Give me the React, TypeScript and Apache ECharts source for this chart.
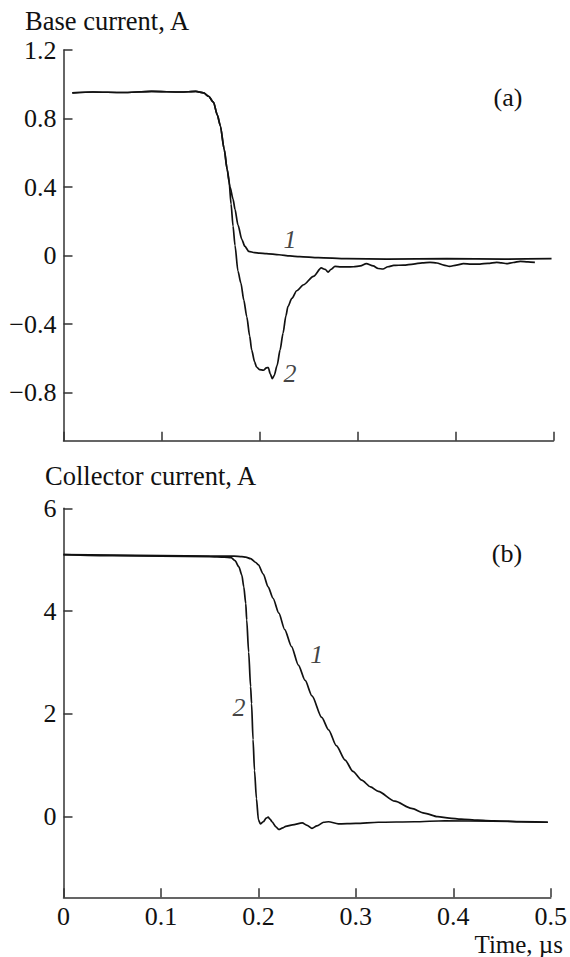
import React, { useEffect, useRef } from "react";
import * as echarts from "echarts";

// Time axis (µs)
const timeTicks = [0, 0.1, 0.2, 0.3, 0.4, 0.5];

// (a) Base current, A
const baseTicks = [-0.8, -0.4, 0, 0.4, 0.8, 1.2];
const baseCurve1: [number, number][] = [
  [0.009, 0.95], [0.03, 0.955], [0.06, 0.952], [0.09, 0.958], [0.12, 0.955], [0.135, 0.958],
  [0.143, 0.95], [0.148, 0.93], [0.153, 0.896], [0.157, 0.82], [0.16, 0.758], [0.164, 0.62],
  [0.167, 0.504], [0.17, 0.4], [0.173, 0.33], [0.175, 0.27], [0.178, 0.18], [0.182, 0.094],
  [0.185, 0.055], [0.189, 0.025], [0.195, 0.018], [0.2, 0.015], [0.207, 0.012], [0.22, 0.005],
  [0.231, -0.002], [0.241, -0.006], [0.26, -0.012], [0.289, -0.018], [0.33, -0.02],
  [0.391, -0.018], [0.45, -0.02], [0.498, -0.018],
];
const baseCurve2: [number, number][] = [
  [0.009, 0.95], [0.03, 0.955], [0.06, 0.952], [0.09, 0.958], [0.12, 0.955], [0.135, 0.958],
  [0.143, 0.95], [0.148, 0.93], [0.153, 0.896], [0.157, 0.82], [0.16, 0.758], [0.164, 0.62],
  [0.167, 0.504], [0.169, 0.43], [0.171, 0.3], [0.173, 0.172], [0.175, 0.06], [0.178, -0.09],
  [0.181, -0.16], [0.184, -0.26], [0.187, -0.356], [0.19, -0.47], [0.192, -0.55], [0.195, -0.62],
  [0.197, -0.65], [0.2, -0.665], [0.204, -0.669], [0.207, -0.655], [0.209, -0.653], [0.211, -0.69],
  [0.213, -0.718], [0.215, -0.7], [0.218, -0.64], [0.221, -0.55], [0.224, -0.453], [0.227, -0.35],
  [0.229, -0.297], [0.233, -0.25], [0.238, -0.205], [0.245, -0.17], [0.255, -0.121], [0.263, -0.072],
  [0.267, -0.08], [0.27, -0.096], [0.273, -0.08], [0.277, -0.063], [0.283, -0.066], [0.289, -0.066],
  [0.296, -0.065], [0.303, -0.06], [0.309, -0.047], [0.316, -0.06], [0.321, -0.075], [0.326, -0.078],
  [0.331, -0.065], [0.337, -0.057], [0.347, -0.055], [0.357, -0.049], [0.366, -0.042], [0.374, -0.039],
  [0.381, -0.043], [0.388, -0.055], [0.394, -0.063], [0.401, -0.055], [0.408, -0.047], [0.416, -0.05],
  [0.425, -0.049], [0.433, -0.045], [0.442, -0.039], [0.447, -0.042], [0.452, -0.047], [0.459, -0.04],
  [0.466, -0.033], [0.474, -0.036], [0.481, -0.039],
];

// (b) Collector current, A
const collectorTicks = [0, 2, 4, 6];
const collectorCurve1: [number, number][] = [
  [0, 5.1], [0.05, 5.09], [0.1, 5.08], [0.15, 5.07], [0.175, 5.07], [0.183, 5.06], [0.187, 5.05],
  [0.192, 5.02], [0.197, 4.95], [0.2, 4.9], [0.205, 4.72], [0.21, 4.47], [0.215, 4.25], [0.221, 3.96],
  [0.227, 3.64], [0.234, 3.31], [0.241, 2.95], [0.248, 2.65], [0.255, 2.35], [0.265, 1.93],
  [0.272, 1.69], [0.28, 1.38], [0.289, 1.1], [0.297, 0.88], [0.306, 0.71], [0.315, 0.58], [0.323, 0.49],
  [0.34, 0.3], [0.357, 0.16], [0.37, 0.07], [0.384, 0.0], [0.396, -0.03], [0.408, -0.05], [0.425, -0.07],
  [0.442, -0.08], [0.47, -0.1], [0.497, -0.11],
];
const collectorCurve2: [number, number][] = [
  [0, 5.1], [0.05, 5.08], [0.1, 5.07], [0.15, 5.06], [0.165, 5.05], [0.172, 5.04], [0.176, 4.98],
  [0.18, 4.86], [0.183, 4.7], [0.185, 4.47], [0.187, 4.15], [0.188, 3.83], [0.19, 3.2], [0.192, 2.53],
  [0.193, 2.2], [0.1945, 1.5], [0.196, 0.9], [0.198, 0.35], [0.2, -0.06], [0.202, -0.14], [0.205, -0.1],
  [0.208, -0.03], [0.21, -0.01], [0.212, -0.05], [0.214, -0.1], [0.218, -0.2], [0.221, -0.25],
  [0.225, -0.22], [0.228, -0.19], [0.235, -0.16], [0.245, -0.12], [0.25, -0.17], [0.255, -0.23],
  [0.26, -0.18], [0.267, -0.11], [0.272, -0.1], [0.282, -0.14], [0.3, -0.13], [0.323, -0.11],
  [0.36, -0.1], [0.391, -0.08], [0.44, -0.09], [0.497, -0.11],
];

// Curve number labels: [time, value, text]
const baseCurveLabels: [number, number, string][] = [
  [0.231, 0.094, "1"],
  [0.231, -0.686, "2"],
];
const collectorCurveLabels: [number, number, string][] = [
  [0.26, 3.15, "1"],
  [0.18, 2.12, "2"],
];

const FONT = "Liberation Serif, DejaVu Serif, serif";
const INK = "#111";
const AXIS = "#333";
const TICK_FONT = 26;
const TITLE_FONT = 26.5;

const fmt = (v: number) => {
  const s = String(Number(v.toFixed(2)));
  return s.replace("-", "\u2212");
};

function buildOption() {
  const axisLine = { show: true, onZero: false, lineStyle: { color: AXIS, width: 1.5 } };
  const tickStyle = { color: AXIS, width: 1.5 };
  const labelStyle = { color: INK, fontFamily: FONT, fontSize: TICK_FONT };

  const xAxisBase = {
    type: "value" as const,
    min: timeTicks[0],
    max: timeTicks[timeTicks.length - 1],
    interval: 0.1,
    axisLine,
    splitLine: { show: false },
    axisTick: { show: true, inside: true, length: 9, lineStyle: tickStyle },
  };

  const lineSeries = (data: [number, number][], idx: number) => ({
    type: "line" as const,
    xAxisIndex: idx,
    yAxisIndex: idx,
    data,
    showSymbol: false,
    symbol: "none",
    smooth: 0.25,
    smoothMonotone: "x" as const,
    lineStyle: { color: INK, width: 1.7 },
    silent: true,
  });

  const labelSeries = (data: [number, number, string][], idx: number) => ({
    type: "scatter" as const,
    xAxisIndex: idx,
    yAxisIndex: idx,
    data,
    symbolSize: 0,
    silent: true,
    label: {
      show: true,
      position: "inside" as const,
      formatter: (p: any) => p.data[2],
      color: INK,
      fontFamily: FONT,
      fontSize: TICK_FONT,
      fontStyle: "italic" as const,
    },
  });

  return {
    animation: false,
    backgroundColor: "#fff",
    textStyle: { fontFamily: FONT },
    grid: [
      { left: 63.5, right: 16.5, top: 50, height: 390.7 },
      { left: 63.5, right: 16.5, top: 508.3, height: 389 },
    ],
    xAxis: [
      { ...xAxisBase, gridIndex: 0, axisLabel: { show: false } },
      {
        ...xAxisBase,
        gridIndex: 1,
        axisLabel: { show: true, margin: 6, formatter: fmt, ...labelStyle },
      },
    ],
    yAxis: [
      {
        type: "value",
        gridIndex: 0,
        min: -1.08,
        max: 1.2,
        axisLine,
        splitLine: { show: false },
        axisTick: { show: true, inside: true, length: 9, lineStyle: tickStyle, customValues: baseTicks },
        axisLabel: { show: true, margin: 7, formatter: fmt, customValues: baseTicks, ...labelStyle },
      },
      {
        type: "value",
        gridIndex: 1,
        min: -1.57,
        max: 6,
        axisLine,
        splitLine: { show: false },
        axisTick: { show: true, inside: true, length: 9, lineStyle: tickStyle, customValues: collectorTicks },
        axisLabel: { show: true, margin: 7, formatter: fmt, customValues: collectorTicks, ...labelStyle },
      },
    ],
    series: [
      lineSeries(baseCurve1, 0),
      lineSeries(baseCurve2, 0),
      lineSeries(collectorCurve1, 1),
      lineSeries(collectorCurve2, 1),
      labelSeries(baseCurveLabels, 0),
      labelSeries(collectorCurveLabels, 1),
    ],
    graphic: [
      {
        type: "text",
        left: 25,
        top: 7,
        style: { text: "Base current, A", fill: INK, fontFamily: FONT, fontSize: TITLE_FONT },
      },
      {
        type: "text",
        left: 45,
        top: 462,
        style: { text: "Collector current, A", fill: INK, fontFamily: FONT, fontSize: TITLE_FONT },
      },
      {
        type: "text",
        x: 508,
        y: 97,
        style: { text: "(a)", fill: INK, fontFamily: FONT, fontSize: TICK_FONT, align: "center", verticalAlign: "middle" },
      },
      {
        type: "text",
        x: 507,
        y: 553,
        style: { text: "(b)", fill: INK, fontFamily: FONT, fontSize: TICK_FONT, align: "center", verticalAlign: "middle" },
      },
      {
        type: "text",
        x: 563,
        y: 944,
        style: { text: "Time, \u00b5s", fill: INK, fontFamily: FONT, fontSize: 25, align: "right", verticalAlign: "middle" },
      },
    ],
  };
}

export default function App() {
  const ref = useRef<HTMLDivElement>(null);

  useEffect(() => {
    if (!ref.current) return;
    const chart = echarts.init(ref.current, undefined, { renderer: "svg" });
    chart.setOption(buildOption() as any);
    return () => chart.dispose();
  }, []);

  return (
    <div
      ref={ref}
      style={{ position: "absolute", left: 0, top: 0, width: 570, height: 957, background: "#fff" }}
    />
  );
}
